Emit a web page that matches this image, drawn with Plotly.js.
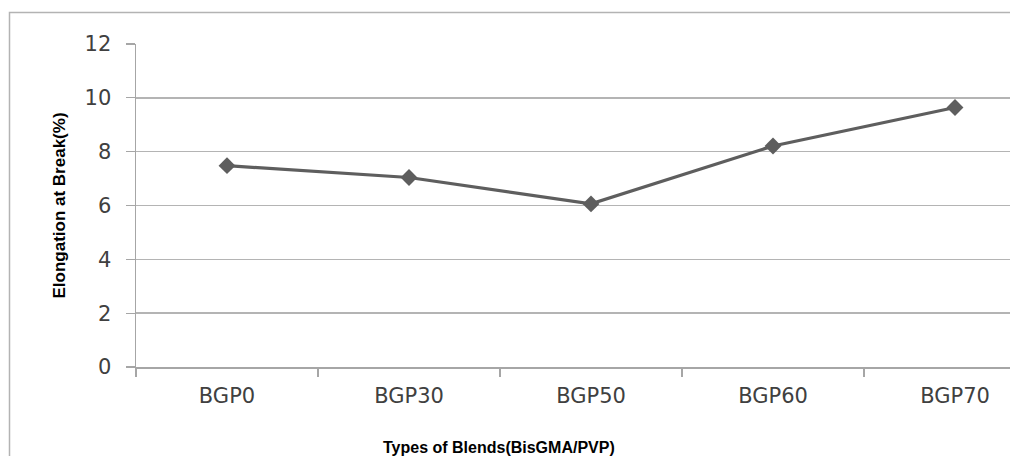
<!DOCTYPE html>
<html>
<head>
<meta charset="utf-8">
<script src="https://cdn.plot.ly/plotly-3.0.1.min.js"></script>
<style>
html,body{margin:0;padding:0;background:#fff;}
#chart{width:1010px;height:456px;}
</style>
</head>
<body>
<div id="chart"></div>
<script>
const categories = ["BGP0", "BGP30", "BGP50", "BGP60", "BGP70"];
const elongation = [7.48, 7.04, 6.06, 8.21, 9.64];
const yTicks = [0, 2, 4, 6, 8, 10, 12];

const L = 136, T = 44, B = 367, W = 1010, H = 456;
const plotW = W - L, plotH = B - T;
const px2x = p => (p - L) / plotW;
const px2y = p => (B - p) / plotH;

const trace = {
  x: categories,
  y: elongation,
  type: "scatter",
  mode: "lines+markers",
  line: {color: "#5e5e5e", width: 3.2},
  marker: {symbol: "diamond", size: 13, color: "#5e5e5e"},
  hoverinfo: "x+y"
};

const layout = {
  width: W, height: H,
  margin: {l: L, r: 0, t: T, b: H - B, pad: 0},
  paper_bgcolor: "#ffffff",
  plot_bgcolor: "#ffffff",
  showlegend: false,
  font: {family: "DejaVu Sans, sans-serif", color: "#404040"},
  xaxis: {
    type: "category",
    range: [-0.5, -0.5 + plotW / 182],
    tickson: "boundaries",
    ticks: "outside",
    ticklen: 8,
    tickcolor: "#a6a6a6",
    tickwidth: 1.3,
    showline: true,
    linecolor: "#a6a6a6",
    linewidth: 1.5,
    showgrid: false,
    zeroline: false,
    tickfont: {family: "DejaVu Sans, sans-serif", size: 21, color: "#404040"},
    ticklabelstandoff: 9,
    title: {text: ""}
  },
  yaxis: {
    range: [0, 12],
    tickvals: yTicks,
    ticks: "outside",
    ticklen: 9,
    tickcolor: "#a6a6a6",
    tickwidth: 1.3,
    showline: true,
    linecolor: "#a6a6a6",
    linewidth: 1.5,
    showgrid: true,
    gridcolor: "#b4b4b4",
    gridwidth: 1.5,
    zeroline: false,
    tickfont: {family: "DejaVu Sans, sans-serif", size: 21, color: "#404040"},
    ticklabelstandoff: 10,
    title: {
      text: "Elongation at Break(%)",
      font: {family: "Liberation Sans, Arial, sans-serif", size: 17, color: "#000000", weight: "bold"},
      standoff: 14
    }
  },
  annotations: [{
    text: "<b>Types of Blends(BisGMA/PVP)</b>",
    xref: "paper", yref: "paper",
    x: px2x(499), y: px2y(447),
    xanchor: "center", yanchor: "middle",
    showarrow: false,
    font: {family: "Liberation Sans, Arial, sans-serif", size: 16, color: "#000000"}
  }],
  shapes: [{
    type: "rect", xref: "paper", yref: "paper",
    x0: px2x(9.5), x1: px2x(1030), y0: px2y(12.5), y1: px2y(470),
    line: {color: "#b3b3b3", width: 1.5},
    fillcolor: "rgba(0,0,0,0)",
    layer: "below"
  }]
};

Plotly.newPlot("chart", [trace], layout, {displayModeBar: false, staticPlot: true});
</script>
</body>
</html>
